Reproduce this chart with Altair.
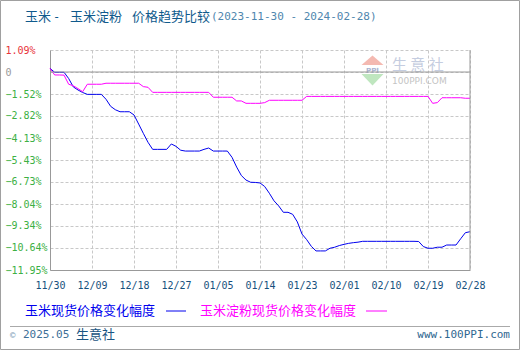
import altair as alt
import pandas as pd

# ---------------- data ----------------
start_date = "2023-11-30"
day_offsets = list(range(91))

corn = [0.00, -0.23, -0.23, -0.23, -0.60, -1.10, -1.28, -1.43, -1.54, -1.54,
        -1.54, -1.54, -1.83, -2.25, -2.45, -2.57, -2.57, -2.57, -2.76, -3.30,
        -3.85, -4.38, -4.80, -4.80, -4.80, -4.80, -4.48, -4.62, -4.85, -4.90,
        -4.90, -4.90, -4.90, -4.80, -4.72, -4.90, -4.90, -4.90, -4.90, -5.27,
        -5.85, -6.35, -6.62, -6.75, -6.76, -6.79, -7.00, -7.40, -7.85, -8.15,
        -8.53, -8.53, -8.65, -9.10, -9.82, -10.15, -10.55, -10.82, -10.82, -10.82,
        -10.66, -10.60, -10.50, -10.43, -10.37, -10.33, -10.30, -10.25, -10.25, -10.25,
        -10.25, -10.25, -10.25, -10.25, -10.25, -10.25, -10.25, -10.25, -10.25, -10.26,
        -10.56, -10.66, -10.66, -10.60, -10.60, -10.47, -10.47, -10.47, -10.10, -9.74,
        -9.68]

starch = [0.00, -0.39, -0.39, -0.40, -0.94, -1.03, -1.20, -1.38, -0.94, -0.94,
          -0.94, -0.94, -0.88, -0.88, -0.88, -0.88, -0.88, -0.88, -0.88, -0.88,
          -1.08, -1.12, -1.42, -1.42, -1.42, -1.42, -1.42, -1.42, -1.42, -1.42,
          -1.42, -1.42, -1.42, -1.42, -1.42, -1.71, -1.71, -1.71, -1.71, -1.71,
          -1.93, -1.93, -2.07, -2.07, -2.07, -2.07, -2.03, -1.89, -1.89, -1.89,
          -1.89, -1.89, -1.89, -1.89, -1.89, -1.66, -1.66, -1.66, -1.66, -1.66,
          -1.66, -1.66, -1.66, -1.66, -1.66, -1.66, -1.66, -1.66, -1.66, -1.66,
          -1.66, -1.66, -1.66, -1.66, -1.66, -1.66, -1.66, -1.66, -1.66, -1.66,
          -1.66, -1.66, -2.07, -2.03, -1.74, -1.74, -1.74, -1.74, -1.74, -1.77,
          -1.77]

series_names = ["玉米现货价格变化幅度", "玉米淀粉现货价格变化幅度"]
series_colors = ["#0000ee", "#ff00ff"]

y_ticks = [1.09, -0.214, -1.52, -2.82, -4.13, -5.43, -6.73, -8.04, -9.34, -10.64, -11.95]
x_tick_labels = ["2023-11-30", "2023-12-09", "2023-12-18", "2023-12-27", "2024-01-05",
                 "2024-01-14", "2024-01-23", "2024-02-01", "2024-02-10", "2024-02-19",
                 "2024-02-28"]

title_parts = ["玉米", "-", "玉米淀粉", "价格趋势比较"]
title_dates = "(2023-11-30 - 2024-02-28)"

# ---------------- build table ----------------
dates = [(pd.Timestamp(start_date) + pd.Timedelta(days=d)).strftime("%Y-%m-%d") for d in day_offsets]
df = pd.concat([
    pd.DataFrame({"date": dates, "value": corn, "series": series_names[0]}),
    pd.DataFrame({"date": dates, "value": starch, "series": series_names[1]}),
])

x_tick_ms = [int(pd.Timestamp(t, tz="UTC").value // 10**6) for t in x_tick_labels]
x_domain = [x_tick_ms[0], x_tick_ms[-1]]

CJK = "Noto Sans CJK SC"
MONO = "DejaVu Sans Mono"

x_enc = alt.X("date:T", scale=alt.Scale(type="utc", domain=x_domain, nice=False),
              axis=alt.Axis(values=x_tick_ms, tickCount=30, format="%m/%d", title=None,
                            labelFont=MONO, labelFontSize=10, labelColor="#17507d",
                            labelPadding=10, ticks=False, tickSize=0,
                            labelFlush=False, labelOverlap=False,
                            domainColor="#999999", grid=True, gridColor="#c8c8c8",
                            gridDash=[3, 2]))
y_enc = alt.Y("value:Q", scale=alt.Scale(domain=[-11.95, 1.09], nice=False, zero=False),
              axis=alt.Axis(values=y_ticks, tickCount=30, title=None,
                            labelExpr="datum.value < -0.1 && datum.value > -0.3 ? '0' : format(datum.value, '.2f') + '%'",
                            labelColor=alt.ExprRef("datum.value > 0.5 ? '#e8333a' : (datum.value > -0.5 ? '#999999' : '#3cb043')"),
                            labelFont=MONO, labelFontSize=10, labelAlign="left",
                            labelPadding=45, ticks=False, tickSize=0,
                            labelFlush=False, labelOverlap=False,
                            domainColor="#999999", grid=True, gridColor="#c8c8c8",
                            gridDash=[3, 2]))

lines = alt.Chart(df).mark_line(strokeWidth=1, interpolate="linear").encode(
    x=x_enc, y=y_enc,
    color=alt.Color("series:N", scale=alt.Scale(domain=series_names, range=series_colors), legend=None),
)

zero_rule = alt.Chart(pd.DataFrame({"v": [y_ticks[1]]})).mark_rule(color="#999999", strokeWidth=1).encode(
    y=alt.Y("v:Q", scale=alt.Scale(domain=[-11.95, 1.09], nice=False, zero=False)),
    x=alt.value(0), x2=alt.value(420))
right_rule = alt.Chart(pd.DataFrame({"a": [0]})).mark_rule(color="#999999", strokeWidth=1).encode(
    x=alt.value(420), y=alt.value(0), y2=alt.value(220))


def txt(text, x, y, color, font, size, align="left", weight="normal"):
    return alt.Chart(pd.DataFrame({"t": [text]})).mark_text(
        align=align, baseline="middle", font=font, fontSize=size, color=color, fontWeight=weight
    ).encode(text="t:N", x=alt.value(x), y=alt.value(y))


def hrule(x1, x2, y, color, width=1):
    return alt.Chart(pd.DataFrame({"a": [0]})).mark_rule(color=color, strokeWidth=width).encode(
        x=alt.value(x1), x2=alt.value(x2), y=alt.value(y))


# coordinates below are relative to plot origin (50, 50)
title_color = "#0f5a8c"
title_layers = [
    txt(title_parts[0], -25, -33, title_color, CJK, 13),
    txt(title_parts[1], 3, -33, title_color, MONO, 12),
    txt(title_parts[2], 20, -33, title_color, CJK, 13),
    txt(title_parts[3], 82, -33, title_color, CJK, 13),
    txt(title_dates, 161, -33, "#4f86ae", MONO, 11),
]

legend_layers = [
    txt(series_names[0], -25, 261, series_colors[0], CJK, 13),
    hrule(116, 136, 261, series_colors[0]),
    txt(series_names[1], 150, 261, series_colors[1], CJK, 13),
    hrule(316, 337, 261, series_colors[1]),
]

footer_layers = [
    hrule(-40, 460, 276.5, "#aaaaaa"),
    txt("©", -40, 285, "#7a9ab5", MONO, 9),
    txt("2025.05", -27, 285, "#3d6f97", MONO, 11),
    txt("生意社", 26, 285, "#1a5582", CJK, 13),
    txt("www.100PPI.com", 460, 285, "#2f6790", MONO, 11, align="right"),
]

tri_up = alt.Chart(pd.DataFrame({"a": [0]})).mark_point(
    shape="M -1 0.4 L 0 -0.45 L 1 0.4 Z", filled=True, color="#f4b9b1", opacity=1, size=484
).encode(x=alt.value(322.5), y=alt.value(10.5))
tri_down = alt.Chart(pd.DataFrame({"a": [0]})).mark_point(
    shape="M -1 -0.5 L 0 0.55 L 1 -0.5 Z", filled=True, color="#bfe6bf", opacity=1, size=484
).encode(x=alt.value(322.5), y=alt.value(29.5))
watermark_layers = [
    tri_up, tri_down,
    txt("PPI", 322.5, 20.5, "#a9b3d0", "DejaVu Sans", 7, align="center", weight="bold"),
    txt("生 意 社", 342, 15, "#c5cde0", CJK, 15),
    txt("100PPI.COM", 342, 31, "#c4c4c4", "DejaVu Sans", 9),
]

border = alt.Chart(pd.DataFrame({"a": [0]})).mark_rect(
    fillOpacity=0, stroke="#a0a0a0", strokeWidth=1
).encode(x=alt.value(-49.5), x2=alt.value(469.5), y=alt.value(-49.5), y2=alt.value(299.5))

chart = alt.layer(
    *watermark_layers, lines, zero_rule, right_rule,
    *title_layers, *legend_layers, *footer_layers, border,
).properties(
    width=420, height=220,
    autosize=alt.AutoSizeParams(type="none"),
    padding={"left": 50, "top": 50, "right": 50, "bottom": 80},
    background="white",
).configure_view(stroke=None)

chart.save("out.html", embed_options={"renderer": "svg", "actions": False})
